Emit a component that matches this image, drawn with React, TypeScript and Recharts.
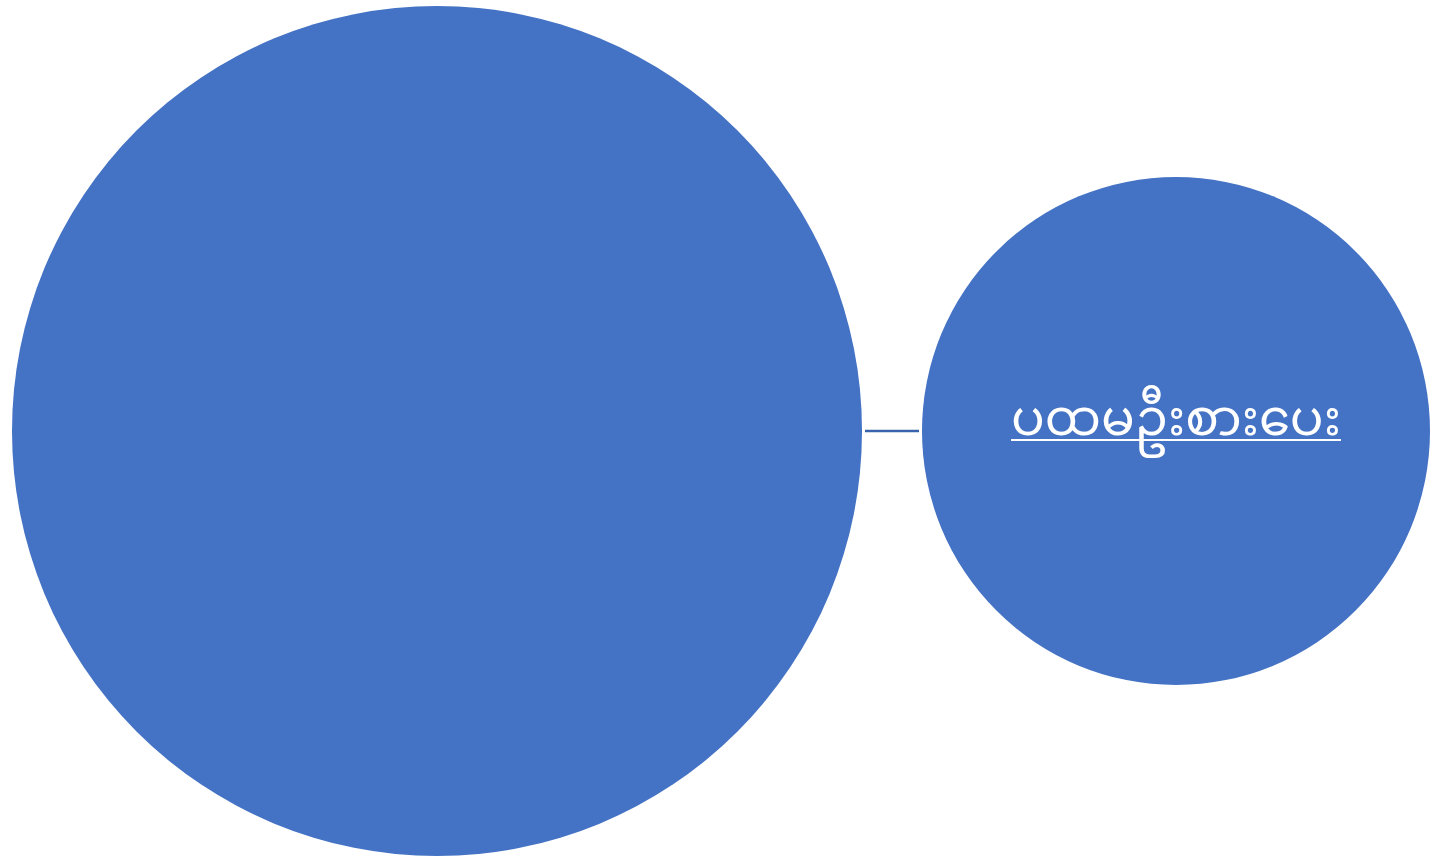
import React, { useLayoutEffect, useRef, useState } from 'react';
import { ScatterChart, Scatter, XAxis, YAxis, ReferenceLine } from 'recharts';

// Node data (diagram units = pixels)
const nodeNames = ['', 'ပထမဦးစားပေး'];
const nodeX = [437, 1176];
const nodeY = [431, 431];
const nodeR = [425, 254];
const connectorGap = 3;

const WIDTH = 1435;
const HEIGHT = 858;
const FONT_SIZE = 50;

const nodes = nodeNames.map((name, i) => ({ name, x: nodeX[i], y: nodeY[i], r: nodeR[i] }));

const Label = ({ cx, cy, text }: { cx: number; cy: number; text: string }) => {
  const ref = useRef<SVGTextElement>(null);
  const [w, setW] = useState(0);
  useLayoutEffect(() => {
    if (ref.current) setW(ref.current.getComputedTextLength());
  }, [text]);
  const baseline = cy + FONT_SIZE * 0.08;
  const underlineY = baseline + FONT_SIZE * 0.1;
  return (
    <g>
      <text
        ref={ref}
        x={cx}
        y={baseline}
        fill="#FFFFFF"
        textAnchor="middle"
        fontSize={FONT_SIZE}
        style={{ fontFamily: '"Noto Sans Myanmar", "Padauk", "Myanmar Text", "Noto Sans", sans-serif' }}
      >
        {text}
      </text>
      {w > 0 ? (
        <line x1={cx - w / 2} x2={cx + w / 2} y1={underlineY} y2={underlineY} stroke="#FFFFFF" strokeWidth={2} />
      ) : null}
    </g>
  );
};

const NodeShape = (props: any) => {
  const { cx, cy, payload } = props;
  return (
    <g>
      <circle cx={cx} cy={cy} r={payload.r} fill="#4472C4" />
      {payload.name ? <Label cx={cx} cy={cy} text={payload.name} /> : null}
    </g>
  );
};

export default function App() {
  const x1 = nodes[0].x + nodes[0].r + connectorGap;
  const x2 = nodes[1].x - nodes[1].r - connectorGap;
  return (
    <div style={{ position: 'fixed', left: 0, top: 0, width: WIDTH, height: HEIGHT, background: '#fff' }}>
      <ScatterChart width={WIDTH} height={HEIGHT} margin={{ top: 0, right: 0, bottom: 0, left: 0 }}>
        <XAxis type="number" dataKey="x" domain={[0, WIDTH]} hide />
        <YAxis type="number" dataKey="y" domain={[0, HEIGHT]} reversed hide />
        <ReferenceLine
          segment={[{ x: x1, y: nodes[0].y }, { x: x2, y: nodes[1].y }]}
          stroke="#3A63AD"
          strokeWidth={2.5}
          ifOverflow="visible"
        />
        <Scatter data={nodes} shape={<NodeShape />} isAnimationActive={false} />
      </ScatterChart>
    </div>
  );
}
